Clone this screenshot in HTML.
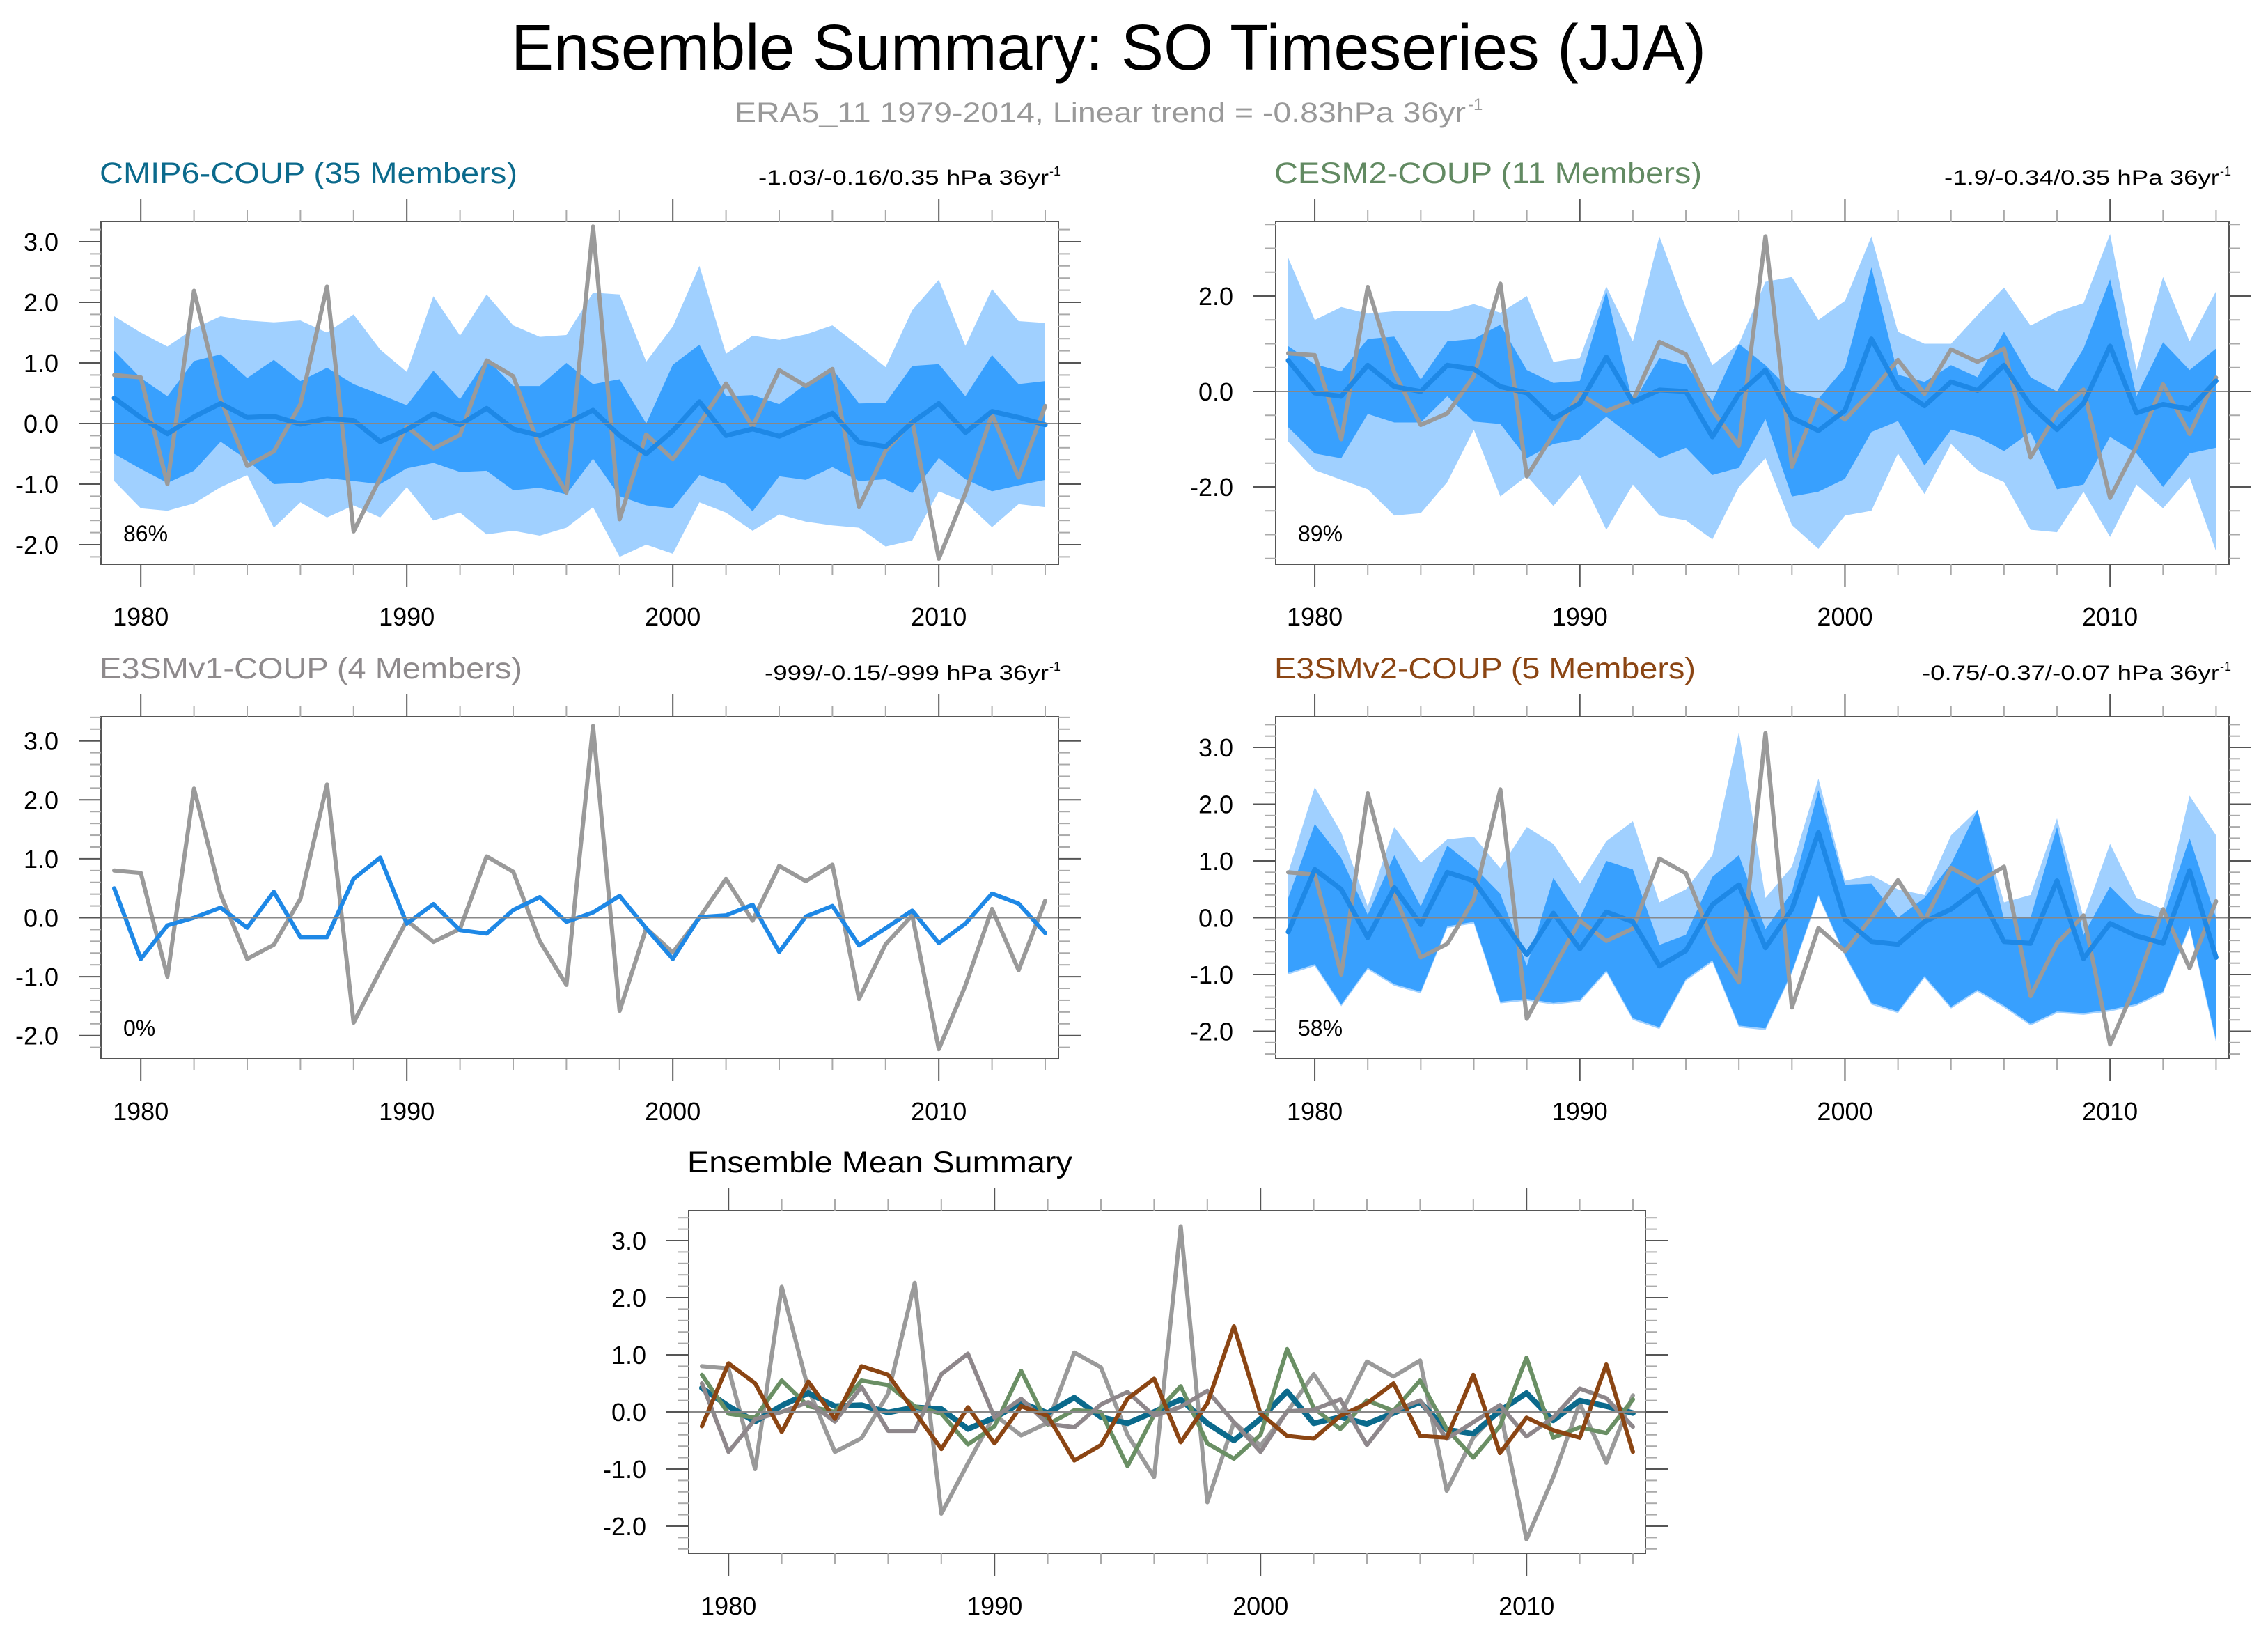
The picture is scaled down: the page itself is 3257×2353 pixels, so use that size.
<!DOCTYPE html>
<html><head><meta charset="utf-8"><style>
html,body{margin:0;padding:0;background:#fff;}
svg{display:block;font-family:"Liberation Sans",sans-serif;}
</style></head><body>
<svg id="chart" width="3257" height="2353" viewBox="0 0 3257 2353" xmlns="http://www.w3.org/2000/svg">
<rect width="3257" height="2353" fill="#fff"/>
<text x="1592" y="100" font-size="93" text-anchor="middle" textLength="1716" lengthAdjust="spacingAndGlyphs">Ensemble Summary: SO Timeseries (JJA)</text>
<text x="1055" y="175" font-size="40" fill="#999" textLength="1050" lengthAdjust="spacingAndGlyphs">ERA5_11 1979-2014, Linear trend = -0.83hPa 36yr</text>
<text x="2108" y="158" font-size="24" fill="#999">-1</text>
</svg>
<script>
const years = [];
for (let y = 1979; y <= 2014; y++) years.push(y);
const era5 = [0.80,0.76,-1.0,2.19,0.4,-0.7,-0.46,0.32,2.26,-1.78,-0.9,-0.05,-0.41,-0.19,1.04,0.78,-0.4,-1.14,3.25,-1.58,-0.18,-0.59,0.0,0.66,-0.05,0.88,0.62,0.9,-1.38,-0.45,0.04,-2.23,-1.15,0.15,-0.89,0.29];
const cmipMean = [0.42,0.1,-0.17,0.11,0.33,0.1,0.12,-0.01,0.08,0.05,-0.3,-0.1,0.16,-0.02,0.25,-0.09,-0.2,0.0,0.22,-0.2,-0.5,-0.12,0.36,-0.2,-0.09,-0.21,-0.02,0.17,-0.31,-0.38,0.02,0.33,-0.15,0.2,0.1,-0.02];
const cmipDarkHi = [1.2,0.75,0.45,1.03,1.14,0.75,1.05,0.7,0.92,0.65,0.48,0.3,0.87,0.4,1.07,0.62,0.62,1.0,0.65,0.73,0.0,0.97,1.3,0.45,0.47,0.32,0.65,0.9,0.33,0.34,0.95,0.98,0.45,1.13,0.65,0.7];
const cmipDarkLo = [-0.5,-0.75,-0.98,-0.78,-0.3,-0.6,-1.0,-0.98,-0.9,-0.95,-1.0,-0.74,-0.65,-0.8,-0.78,-1.1,-1.06,-1.17,-0.58,-1.2,-1.35,-1.4,-0.85,-1.0,-1.45,-0.87,-0.93,-0.72,-0.95,-0.92,-1.15,-0.57,-0.92,-1.12,-1.02,-0.93];
const cmipLightHi = [1.77,1.5,1.27,1.57,1.77,1.7,1.67,1.7,1.5,1.8,1.22,0.85,2.1,1.45,2.13,1.62,1.43,1.46,2.16,2.13,1.02,1.6,2.6,1.15,1.45,1.38,1.47,1.62,1.28,0.93,1.87,2.37,1.28,2.22,1.69,1.66];
const cmipLightLo = [-0.95,-1.4,-1.44,-1.32,-1.05,-0.85,-1.72,-1.3,-1.55,-1.35,-1.55,-1.05,-1.6,-1.47,-1.83,-1.77,-1.85,-1.72,-1.38,-2.2,-2.0,-2.15,-1.3,-1.47,-1.77,-1.5,-1.62,-1.68,-1.72,-2.03,-1.93,-1.12,-1.3,-1.71,-1.33,-1.38];
const cesmMean = [0.65,-0.03,-0.1,0.55,0.1,0.0,0.55,0.47,0.1,-0.03,-0.57,-0.25,0.72,-0.22,0.03,0.0,-0.95,-0.05,0.45,-0.55,-0.82,-0.4,1.1,0.07,-0.3,0.2,0.02,0.55,-0.3,-0.8,-0.25,0.95,-0.45,-0.27,-0.37,0.22];
const cesmDarkHi = [0.95,0.57,0.42,1.1,1.15,0.25,1.05,1.1,1.4,0.45,0.18,0.22,2.1,-0.25,0.7,0.57,-0.2,1.0,0.55,0.0,-0.15,0.5,2.6,0.35,0.2,0.55,0.3,1.25,0.3,0.0,0.9,2.35,-0.1,1.03,0.45,0.9];
const cesmDarkLo = [-0.75,-1.3,-1.4,-0.47,-0.65,-0.65,-0.1,-0.63,-0.68,-1.4,-1.1,-1.0,-0.53,-0.95,-1.4,-1.18,-1.75,-1.6,-0.58,-2.2,-2.1,-1.83,-0.85,-0.62,-1.55,-0.8,-0.95,-1.25,-0.85,-2.05,-1.95,-0.95,-1.3,-2.0,-1.3,-1.18];
const cesmLightHi = [2.8,1.5,1.77,1.63,1.68,1.68,1.68,1.83,1.65,2.0,0.62,0.7,2.2,1.05,3.25,1.75,0.55,1.0,2.3,2.4,1.5,1.9,3.25,1.25,1.0,1.0,1.6,2.18,1.38,1.67,1.85,3.3,0.45,2.4,1.05,2.1];
const cesmLightLo = [-1.05,-1.65,-1.85,-2.05,-2.6,-2.55,-1.9,-0.8,-2.2,-1.77,-2.4,-1.75,-2.9,-1.95,-2.6,-2.7,-3.1,-2.0,-1.4,-2.8,-3.3,-2.6,-2.5,-1.3,-2.15,-1.1,-1.65,-1.9,-2.9,-2.95,-2.1,-3.05,-1.95,-2.45,-1.8,-3.35];
const e3v1Mean = [0.5,-0.7,-0.13,0.0,0.17,-0.17,0.44,-0.33,-0.33,0.66,1.02,-0.1,0.23,-0.21,-0.27,0.13,0.35,-0.07,0.09,0.37,-0.18,-0.7,0.01,0.04,0.22,-0.58,0.02,0.2,-0.47,-0.18,0.12,-0.43,-0.1,0.41,0.24,-0.26];
const e3v2Mean = [-0.25,0.85,0.5,-0.35,0.53,-0.12,0.8,0.65,0.0,-0.65,0.08,-0.55,0.1,-0.07,-0.85,-0.58,0.23,0.58,-0.53,0.15,1.5,-0.03,-0.42,-0.47,-0.07,0.15,0.5,-0.42,-0.45,0.65,-0.72,-0.1,-0.32,-0.45,0.83,-0.7];
const e3v2DarkHi = [0.35,1.65,1.05,0.05,1.1,0.2,1.27,0.9,0.42,-0.85,0.7,0.0,1.0,0.85,-0.48,-0.3,0.72,1.1,-0.2,0.45,2.25,0.58,0.6,0.0,0.35,0.95,1.9,-0.03,0.0,1.6,-0.3,0.55,0.08,0.0,1.4,0.0];
const e3v2DarkLo = [-0.97,-0.82,-1.53,-0.88,-1.17,-1.3,-0.15,-0.07,-1.48,-1.43,-1.5,-1.45,-0.93,-1.77,-1.93,-1.08,-0.75,-1.9,-1.95,-0.95,0.4,-0.65,-1.5,-1.65,-1.03,-1.57,-1.27,-1.55,-1.87,-1.65,-1.68,-1.62,-1.52,-1.3,-0.15,-2.15];
const e3v2LightHi = [0.8,2.3,1.5,0.2,1.6,0.97,1.38,1.43,0.87,1.6,1.3,0.6,1.35,1.7,0.27,0.5,1.1,3.27,0.35,0.9,2.45,0.65,0.75,0.5,0.4,1.45,1.9,0.27,0.4,1.75,0.0,1.3,0.35,0.15,2.15,1.45];
const e3v2LightLo = [-1.0,-0.85,-1.56,-0.91,-1.2,-1.33,-0.18,-0.1,-1.51,-1.46,-1.53,-1.48,-0.96,-1.8,-1.96,-1.11,-0.78,-1.93,-1.98,-0.98,0.37,-0.68,-1.53,-1.68,-1.06,-1.6,-1.3,-1.58,-1.9,-1.68,-1.71,-1.65,-1.55,-1.33,-0.18,-2.2];
const xTickLabels = [1980,1990,2000,2010];
const pctLabels = ["86%","89%","0%","58%"];

const NS = "http://www.w3.org/2000/svg";
const svg = document.getElementById('chart');
function mk(tag, attrs, parent) {
  const e = document.createElementNS(NS, tag);
  for (const k in attrs) e.setAttribute(k, attrs[k]);
  (parent || svg).appendChild(e);
  return e;
}
const LIGHT = "#a0d0ff", DARK = "#38a0fe", MEAN = "#1e88e6", GRAY = "#9a9a9a";

function panel(cfg) {
  const g = mk('g', {});
  
  
  const xs = yr => cfg.x1979 + (yr - 1979) * cfg.dx;
  const ys = v => cfg.zero - v * cfg.unit;
  const clipId = 'clip-' + cfg.name;
  const cp = mk('clipPath', {id: clipId}, g);
  mk('rect', {x: cfg.x0, y: cfg.y0, width: cfg.x1 - cfg.x0, height: cfg.y1 - cfg.y0}, cp);
  const plot = mk('g', {'clip-path': 'url(#' + clipId + ')'}, g);
  function band(hi, lo, color, nm) {
    let d = '';
    years.forEach((yr, i) => { d += (i ? 'L' : 'M') + xs(yr).toFixed(1) + ',' + ys(hi[i]).toFixed(1); });
    for (let i = years.length - 1; i >= 0; i--) d += 'L' + xs(years[i]).toFixed(1) + ',' + ys(lo[i]).toFixed(1);
    const p = mk('path', {d: d + 'Z', fill: color, stroke: 'none'}, plot);
    
    
  }
  function line(vals, color, w, nm) {
    const pts = years.map((yr, i) => xs(yr).toFixed(1) + ',' + ys(vals[i]).toFixed(1)).join(' ');
    const p = mk('polyline', {points: pts, fill: 'none', stroke: color, 'stroke-width': w, 'stroke-linejoin': 'round', 'stroke-linecap': 'round'}, plot);
    
    
  }
  if (cfg.bands) {
    band(cfg.bands[0], cfg.bands[1], LIGHT, 'outer-spread-band');
    band(cfg.bands[2], cfg.bands[3], DARK, 'inner-spread-band');
  }
  const zl = mk('line', {x1: cfg.x0, x2: cfg.x1, y1: ys(0), y2: ys(0), stroke: '#888', 'stroke-width': 2}, g);
  
  
  cfg.lines.forEach(l => line(l.v, l.c, l.w, l.n));
  // box
  const box = mk('rect', {x: cfg.x0, y: cfg.y0, width: cfg.x1 - cfg.x0, height: cfg.y1 - cfg.y0, fill: 'none', stroke: '#555', 'stroke-width': 2}, g);
  
  
  // y ticks
  const vTop = (cfg.zero - cfg.y0) / cfg.unit, vBot = (cfg.zero - cfg.y1) / cfg.unit;
  for (let k = Math.ceil(vBot / cfg.minor - 1e-6); k * cfg.minor <= vTop + 1e-6; k++) {
    const v = k * cfg.minor; const y = ys(v);
    const isMaj = Math.abs(v / cfg.major - Math.round(v / cfg.major)) < 1e-6;
    const len = isMaj ? 32 : 16;
    mk('line', {x1: cfg.x0 - len, x2: cfg.x0, y1: y, y2: y, stroke: isMaj ? '#555' : '#aaa', 'stroke-width': 2}, g);
    mk('line', {x1: cfg.x1, x2: cfg.x1 + len, y1: y, y2: y, stroke: isMaj ? '#555' : '#aaa', 'stroke-width': 2}, g);
    if (isMaj) {
      const t = mk('text', {x: cfg.x0 - 61, y: y + 13, 'font-size': 36, 'text-anchor': 'end'}, g);
      
      
      t.textContent = v.toFixed(1);
    }
  }
  // x ticks
  for (let yr = 1980; yr <= 2014; yr += 2) {
    const x = xs(yr); const isMaj = (yr % 10 === 0);
    const len = isMaj ? 32 : 16;
    mk('line', {x1: x, x2: x, y1: cfg.y0 - len, y2: cfg.y0, stroke: isMaj ? '#555' : '#aaa', 'stroke-width': 2}, g);
    mk('line', {x1: x, x2: x, y1: cfg.y1, y2: cfg.y1 + len, stroke: isMaj ? '#555' : '#aaa', 'stroke-width': 2}, g);
  }
  xTickLabels.forEach(yr => {
    const t = mk('text', {x: xs(yr), y: cfg.y1 + 88, 'font-size': 36, 'text-anchor': 'middle'}, g);
    
    
    t.textContent = yr;
  });
  const tt = mk('text', {x: cfg.x0 - 2, y: cfg.y0 - 55, 'font-size': 43, fill: cfg.tcolor, textLength: cfg.tlen, lengthAdjust: 'spacingAndGlyphs'}, g);
  
  
  tt.textContent = cfg.title;
  if (cfg.rlabel) {
    const rt = mk('text', {x: cfg.x1 - 14, y: cfg.y0 - 53, 'font-size': 30, 'text-anchor': 'end', textLength: cfg.rlen, lengthAdjust: 'spacingAndGlyphs'}, g);
    
    
    rt.textContent = cfg.rlabel;
    const sp = mk('text', {x: cfg.x1 - 13, y: cfg.y0 - 66, 'font-size': 18}, g);
    
    
    sp.textContent = '-1';
  }
  if (cfg.pct) {
    const pt = mk('text', {x: cfg.x0 + 32, y: cfg.y1 - 33, 'font-size': 32}, g);
    
    
    pt.textContent = cfg.pct;
  }
}

panel({name: 'cmip6-panel', x0: 145, x1: 1520, y0: 318, y1: 810, zero: 608, unit: 87, x1979: 164, dx: 38.2, major: 1, minor: 0.2,
  bands: [cmipLightHi, cmipLightLo, cmipDarkHi, cmipDarkLo],
  lines: [{v: era5, c: GRAY, w: 6, n: 'era5-line'}, {v: cmipMean, c: MEAN, w: 7, n: 'ensemble-mean-line'}],
  title: 'CMIP6-COUP (35 Members)', tcolor: '#0b6a8c', tlen: 600, rlabel: '-1.03/-0.16/0.35 hPa 36yr', rlen: 417, pct: pctLabels[0]});
panel({name: 'cesm2-panel', x0: 1832, x1: 3201, y0: 318, y1: 810, zero: 562, unit: 68.5, x1979: 1850, dx: 38.07, major: 2, minor: 0.5,
  bands: [cesmLightHi, cesmLightLo, cesmDarkHi, cesmDarkLo],
  lines: [{v: era5, c: GRAY, w: 6, n: 'era5-line'}, {v: cesmMean, c: MEAN, w: 7, n: 'ensemble-mean-line'}],
  title: 'CESM2-COUP (11 Members)', tcolor: '#628a62', tlen: 614, rlabel: '-1.9/-0.34/0.35 hPa 36yr', rlen: 395, pct: pctLabels[1]});
panel({name: 'e3smv1-panel', x0: 145, x1: 1520, y0: 1029, y1: 1520, zero: 1317.5, unit: 84.6, x1979: 164, dx: 38.2, major: 1, minor: 0.2,
  bands: null,
  lines: [{v: era5, c: GRAY, w: 6, n: 'era5-line'}, {v: e3v1Mean, c: MEAN, w: 6, n: 'ensemble-mean-line'}],
  title: 'E3SMv1-COUP (4 Members)', tcolor: '#8e8a8c', tlen: 607, rlabel: '-999/-0.15/-999 hPa 36yr', rlen: 408, pct: pctLabels[2]});
panel({name: 'e3smv2-panel', x0: 1832, x1: 3201, y0: 1029, y1: 1520, zero: 1317.5, unit: 81.5, x1979: 1850, dx: 38.07, major: 1, minor: 0.2,
  bands: [e3v2LightHi, e3v2LightLo, e3v2DarkHi, e3v2DarkLo],
  lines: [{v: era5, c: GRAY, w: 6, n: 'era5-line'}, {v: e3v2Mean, c: MEAN, w: 7, n: 'ensemble-mean-line'}],
  title: 'E3SMv2-COUP (5 Members)', tcolor: '#8b4513', tlen: 605, rlabel: '-0.75/-0.37/-0.07 hPa 36yr', rlen: 427, pct: pctLabels[3]});
panel({name: 'ensemble-mean-summary-panel', x0: 989, x1: 2363, y0: 1738, y1: 2230, zero: 2027, unit: 82, x1979: 1008, dx: 38.2, major: 1, minor: 0.2,
  bands: null,
  lines: [{v: era5, c: GRAY, w: 6, n: 'era5-line'}, {v: cmipMean, c: '#0b6a8c', w: 8, n: 'cmip6-mean-line'},
          {v: cesmMean, c: '#6a8f64', w: 6, n: 'cesm2-mean-line'}, {v: e3v1Mean, c: '#8e878b', w: 6, n: 'e3smv1-mean-line'},
          {v: e3v2Mean, c: '#8b4513', w: 6, n: 'e3smv2-mean-line'}],
  title: 'Ensemble Mean Summary', tcolor: '#000', tlen: 553, rlabel: null, pct: null});
</script>
</body></html>
